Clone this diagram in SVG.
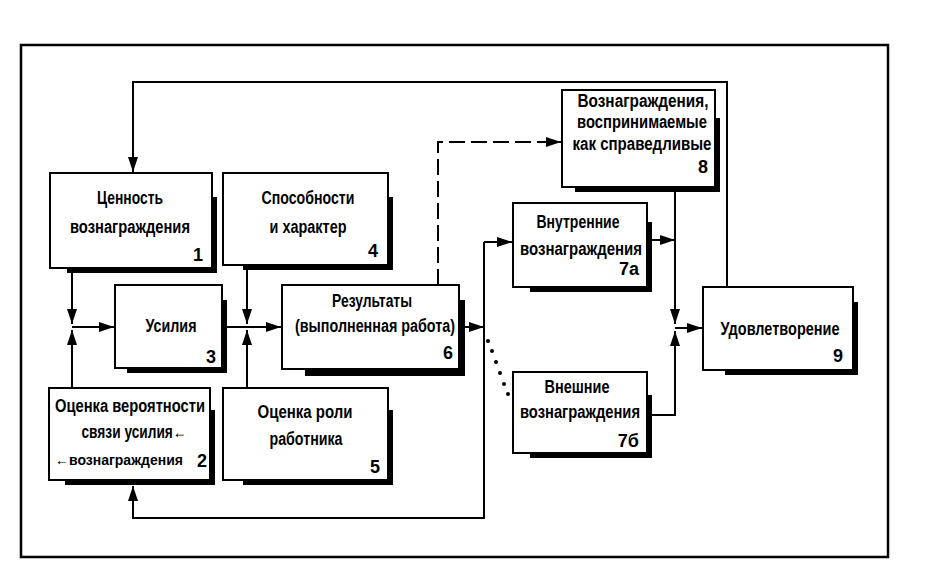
<svg xmlns="http://www.w3.org/2000/svg" width="936" height="582" viewBox="0 0 936 582">
<style>
.box{fill:#fff;stroke:#000;stroke-width:2}
.sh{fill:#000}
.t{font-family:"Liberation Sans","Arial",sans-serif;font-weight:bold;font-size:18px;fill:#000;text-anchor:middle}
.n{text-anchor:end}
.c{fill:none;stroke:#000;stroke-width:2}
</style>
<defs>
<marker id="ah" markerUnits="userSpaceOnUse" markerWidth="16" markerHeight="11" refX="15" refY="5.5" orient="auto">
<path d="M0,0.5 L15,5.5 L0,10.5 z" fill="#000"/>
</marker>
</defs>
<rect x="21" y="45" width="867" height="512" fill="none" stroke="#000" stroke-width="2.5"/>
<g id="connectors">
<path class="c" d="M727 287 V82 H133 V172" marker-end="url(#ah)"/>
<path class="c" d="M72 273 V324" marker-end="url(#ah)"/>
<path class="c" d="M72 388 V330" marker-end="url(#ah)"/>
<path class="c" d="M72 327 H114" marker-end="url(#ah)"/>
<path class="c" d="M247 269 V324" marker-end="url(#ah)"/>
<path class="c" d="M247 388 V330" marker-end="url(#ah)"/>
<path class="c" d="M227 327 H281" marker-end="url(#ah)"/>
<path class="c" d="M465 327 H484" marker-end="url(#ah)"/>
<path class="c" d="M484 242 V518 H133 V486" marker-end="url(#ah)"/>
<path class="c" d="M484 242 H512" marker-end="url(#ah)"/>
<path class="c" d="M438 285 V142 H561" stroke-dasharray="16 6" marker-end="url(#ah)"/>
<g fill="#000">
<circle cx="488" cy="341" r="2"/>
<circle cx="492" cy="351" r="2"/>
<circle cx="496" cy="362" r="2"/>
<circle cx="500" cy="373" r="2"/>
<circle cx="504" cy="384" r="2"/>
<circle cx="508" cy="394" r="2"/>
</g>
<path class="c" d="M675 192 V324" marker-end="url(#ah)"/>
<path class="c" d="M652 240 H675" marker-end="url(#ah)"/>
<path class="c" d="M652 415 H675 V331" marker-end="url(#ah)"/>
<path class="c" d="M675 328 H702" marker-end="url(#ah)"/>
</g>
<g id="n1">
<path class="sh" d="M212 197 h5 v76 h-150 v-5 h145 z"/>
<rect class="box" x="50" y="173" width="162" height="95"/>
<text class="t" x="130" y="204" textLength="66" lengthAdjust="spacingAndGlyphs">Ценность</text>
<text class="t" x="130" y="233" textLength="120" lengthAdjust="spacingAndGlyphs">вознаграждения</text>
<text class="t n" x="203" y="261">1</text>
</g>
<g id="n4">
<path class="sh" d="M388 197 h5 v73 h-150 v-5 h145 z"/>
<rect class="box" x="223" y="173" width="165" height="92"/>
<text class="t" x="308" y="204" textLength="93" lengthAdjust="spacingAndGlyphs">Способности</text>
<text class="t" x="308" y="233" textLength="77" lengthAdjust="spacingAndGlyphs">и характер</text>
<text class="t n" x="378" y="257">4</text>
</g>
<g id="n3">
<path class="sh" d="M222 300 h5 v73 h-100 v-5 h95 z"/>
<rect class="box" x="115" y="285" width="107" height="83"/>
<text class="t" x="171" y="332" textLength="51" lengthAdjust="spacingAndGlyphs">Усилия</text>
<text class="t n" x="216" y="363">3</text>
</g>
<g id="n2">
<path class="sh" d="M210 410 h5 v75 h-150 v-5 h145 z"/>
<rect class="box" x="49" y="388" width="161" height="92"/>
<text class="t" x="130" y="412" textLength="150" lengthAdjust="spacingAndGlyphs">Оценка вероятности</text>
<text class="t" x="134" y="438" textLength="105" lengthAdjust="spacingAndGlyphs">связи усилия←</text>
<text class="t" x="55" y="465" style="font-size:15px;text-anchor:start" textLength="128" lengthAdjust="spacingAndGlyphs">←вознаграждения</text>
<text class="t n" x="207" y="467">2</text>
</g>
<g id="n5">
<path class="sh" d="M388 410 h5 v75 h-150 v-5 h145 z"/>
<rect class="box" x="223" y="388" width="165" height="92"/>
<text class="t" x="305" y="418" textLength="95" lengthAdjust="spacingAndGlyphs">Оценка роли</text>
<text class="t" x="306" y="445" textLength="73" lengthAdjust="spacingAndGlyphs">работника</text>
<text class="t n" x="380" y="473">5</text>
</g>
<g id="n6">
<path class="sh" d="M459 300 h6 v76 h-160 v-7 h154 z"/>
<rect class="box" x="282" y="285" width="177" height="84"/>
<text class="t" x="372" y="307" textLength="80" lengthAdjust="spacingAndGlyphs">Результаты</text>
<text class="t" x="375" y="332" textLength="160" lengthAdjust="spacingAndGlyphs">(выполненная работа)</text>
<text class="t n" x="453" y="359">6</text>
</g>
<g id="n8">
<path class="sh" d="M715 118 h5 v74 h-145 v-5 h140 z"/>
<rect class="box" x="562" y="90" width="153" height="97"/>
<text class="t" x="643" y="107" textLength="131" lengthAdjust="spacingAndGlyphs">Вознаграждения,</text>
<text class="t" x="642" y="128" textLength="130" lengthAdjust="spacingAndGlyphs">воспринимаемые</text>
<text class="t" x="642" y="150" textLength="139" lengthAdjust="spacingAndGlyphs">как справедливые</text>
<text class="t n" x="708" y="173">8</text>
</g>
<g id="n7a">
<path class="sh" d="M647 222 h5 v70 h-122 v-5 h117 z"/>
<rect class="box" x="513" y="203" width="134" height="84"/>
<text class="t" x="578" y="228" textLength="83" lengthAdjust="spacingAndGlyphs">Внутренние</text>
<text class="t" x="581" y="255" textLength="122" lengthAdjust="spacingAndGlyphs">вознаграждения</text>
<text class="t n" x="639" y="275">7а</text>
</g>
<g id="n7b">
<path class="sh" d="M647 395 h5 v63 h-122 v-5 h117 z"/>
<rect class="box" x="513" y="372" width="134" height="81"/>
<text class="t" x="577" y="393" textLength="65" lengthAdjust="spacingAndGlyphs">Внешние</text>
<text class="t" x="580" y="418" textLength="120" lengthAdjust="spacingAndGlyphs">вознаграждения</text>
<text class="t n" x="639" y="447">7б</text>
</g>
<g id="n9">
<path class="sh" d="M853 302 h5 v73 h-133 v-5 h128 z"/>
<rect class="box" x="703" y="287" width="150" height="83"/>
<text class="t" x="780" y="335" textLength="119" lengthAdjust="spacingAndGlyphs">Удовлетворение</text>
<text class="t n" x="843" y="362">9</text>
</g>
</svg>
